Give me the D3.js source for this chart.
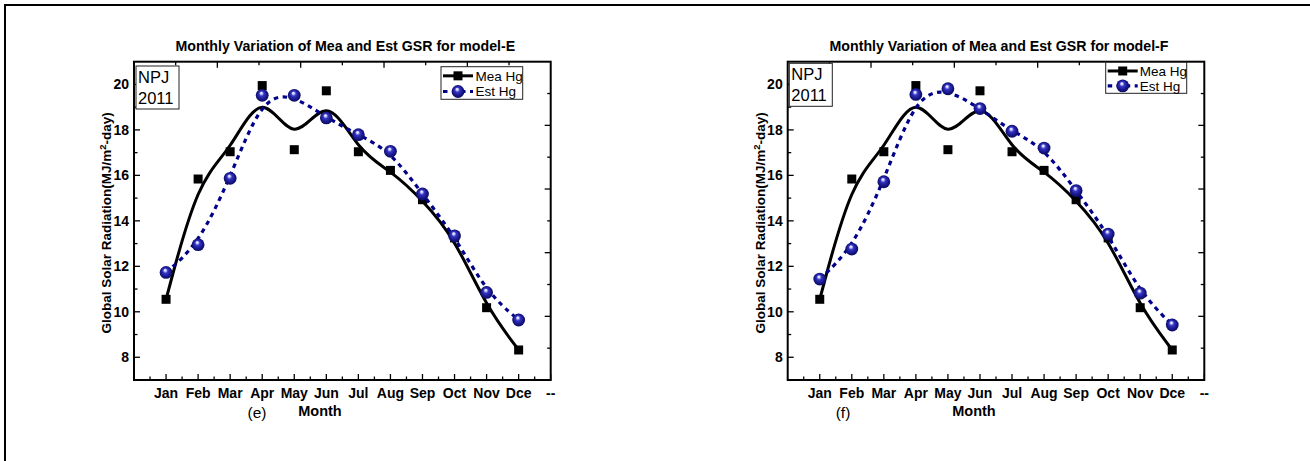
<!DOCTYPE html>
<html>
<head>
<meta charset="utf-8">
<script src="https://cdnjs.cloudflare.com/ajax/libs/d3/7.8.5/d3.min.js"></script>
<style>
html,body{margin:0;padding:0;background:#fff;}
svg{display:block;}
text{font-family:"Liberation Sans", Arial, sans-serif;}
</style>
</head>
<body>
<svg id="chart" width="1310" height="461"></svg>
<script>
// ---- data ----
const months = ["Jan","Feb","Mar","Apr","May","Jun","Jul","Aug","Sep","Oct","Nov","Dce"];
const xTickLabels = ["Jan","Feb","Mar","Apr","May","Jun","Jul","Aug","Sep","Oct","Nov","Dce","--"];
const yTickValues = [8,10,12,14,16,18,20];
const meaE = [10.55,15.84,17.04,19.95,17.13,19.72,17.04,16.22,14.93,13.25,10.18,8.32];
const estE = [11.73,12.95,15.87,19.52,19.52,18.53,17.79,17.06,15.18,13.34,10.85,9.64];
const meaF = [10.55,15.84,17.04,19.95,17.13,19.72,17.04,16.22,14.93,13.25,10.18,8.32];
const estF = [11.44,12.76,15.72,19.56,19.81,18.94,17.94,17.20,15.33,13.42,10.82,9.42];
const titles = ["Monthly Variation of Mea and Est GSR for model-E","Monthly Variation of Mea and Est GSR for model-F"];
const panelTags = ["(e)","(f)"];
const legendNames = ["Mea Hg","Est Hg"];

const svg = d3.select("#chart");

// sphere gradient
const defs = svg.append("defs");
const grad = defs.append("radialGradient").attr("id","sphere")
  .attr("cx","50%").attr("cy","50%").attr("r","55%").attr("fx","42%").attr("fy","30%");
[["0%","#ffffff"],["14%","#d0d0ff"],["35%","#3535c4"],["70%","#16168a"],["100%","#0a0a50"]]
  .forEach(s=>grad.append("stop").attr("offset",s[0]).attr("stop-color",s[1]));

// outer frame (top and left)
svg.append("line").attr("x1",4).attr("x2",1310).attr("y1",5).attr("y2",5).attr("stroke","#000").attr("stroke-width",2);
svg.append("line").attr("x1",5).attr("x2",5).attr("y1",4).attr("y2",461).attr("stroke","#000").attr("stroke-width",2);

function panel(cfg){
  const {left,right,top,bottom,mea,est,title,tag,tagX,monthX,legend,npj} = cfg;
  const g = svg.append("g");
  const x = d3.scaleLinear().domain([0,13]).range([left,right]);
  const y = d3.scaleLinear().domain([7,21]).range([bottom,top]);
  const cx = (left+right)/2;

  // title
  g.append("text").attr("x",cx+3).attr("y",51).attr("text-anchor","middle")
    .attr("font-weight","bold").attr("font-size","14.2px").text(title);

  // axes frame
  g.append("rect").attr("x",left).attr("y",top).attr("width",right-left).attr("height",bottom-top)
    .attr("fill","none").attr("stroke","#000").attr("stroke-width",2);

  // bottom axis ticks (inward)
  const xMaj = d3.range(1,14), xMin = d3.range(0.5,13,1);
  g.selectAll(".xmaj").data(xMaj).join("line").attr("x1",d=>x(d)).attr("x2",d=>x(d))
    .attr("y1",bottom).attr("y2",bottom-6).attr("stroke","#000").attr("stroke-width",1.3);
  g.selectAll(".xmin").data(xMin).join("line").attr("x1",d=>x(d)).attr("x2",d=>x(d))
    .attr("y1",bottom).attr("y2",bottom-3.5).attr("stroke","#000").attr("stroke-width",1.3);
  g.selectAll(".xlab").data(xTickLabels).join("text").attr("x",(d,i)=>x(i+1)).attr("y",bottom+18)
    .attr("text-anchor","middle").attr("font-weight","bold").attr("font-size","14px").text(d=>d);

  // left axis ticks
  const yMin = [9,11,13,15,17,19];
  g.selectAll(".ymaj").data(yTickValues).join("line").attr("x1",left).attr("x2",left+6)
    .attr("y1",d=>y(d)).attr("y2",d=>y(d)).attr("stroke","#000").attr("stroke-width",1.3);
  g.selectAll(".ymin").data(yMin).join("line").attr("x1",left).attr("x2",left+3.5)
    .attr("y1",d=>y(d)).attr("y2",d=>y(d)).attr("stroke","#000").attr("stroke-width",1.3);
  g.selectAll(".ylab").data(yTickValues).join("text").attr("x",left-5).attr("y",d=>y(d)).attr("dy","0.36em")
    .attr("text-anchor","end").attr("font-weight","bold").attr("font-size","14px").text(d=>d);

  // top & right axes (secondary ticks)
  const sec = d3.scaleLinear().domain([0,10]);
  const sx = sec.copy().range([left,right]), sy = sec.copy().range([top,bottom]);
  const k = d3.range(1,10);
  g.selectAll(".tt").data(k).join("line").attr("x1",d=>sx(d)).attr("x2",d=>sx(d))
    .attr("y1",top).attr("y2",d=>top+(d%2?3.5:6)).attr("stroke","#000").attr("stroke-width",1.3);
  g.selectAll(".rt").data(k).join("line").attr("y1",d=>sy(d)).attr("y2",d=>sy(d))
    .attr("x1",right).attr("x2",d=>right-(d%2?3.5:6)).attr("stroke","#000").attr("stroke-width",1.3);

  // axis titles
  g.append("text").attr("x",monthX).attr("y",416).attr("text-anchor","middle")
    .attr("font-weight","bold").attr("font-size","14.5px").text("Month");
  g.append("text").attr("x",tagX).attr("y",418).attr("text-anchor","middle")
    .attr("font-size","15.5px").text(tag);
  const yl = g.append("text").attr("transform",`translate(${left-23},${(top+bottom)/2+2}) rotate(-90)`)
    .attr("text-anchor","middle").attr("font-weight","bold").attr("font-size","13.5px");
  yl.append("tspan").text("Global Solar Radiation(MJ/m");
  yl.append("tspan").attr("dy",-5).attr("font-size","9.5px").text("2");
  yl.append("tspan").attr("dy",5).text("-day)");

  // curves
  const line = d3.line().x((d,i)=>x(i+1)).y(d=>y(d)).curve(d3.curveBasis);
  g.append("path").datum(mea).attr("d",line).attr("fill","none").attr("stroke","#000").attr("stroke-width",3);
  g.selectAll(".sq").data(mea).join("rect").attr("x",(d,i)=>x(i+1)-4.5).attr("y",d=>y(d)-4.5)
    .attr("width",9).attr("height",9).attr("fill","#000");
  g.append("path").datum(est).attr("d",line).attr("fill","none").attr("stroke","#00008b")
    .attr("stroke-width",3.2).attr("stroke-dasharray","4.5,4.5");
  g.selectAll(".ci").data(est).join("circle").attr("cx",(d,i)=>x(i+1)).attr("cy",d=>y(d))
    .attr("r",6.4).attr("fill","url(#sphere)");

  // NPJ box
  g.append("rect").attr("x",npj.x).attr("y",npj.y).attr("width",43).attr("height",43)
    .attr("fill","#fff").attr("stroke","#222").attr("stroke-width",1);
  g.append("text").attr("x",npj.x+2).attr("y",npj.y+17).attr("font-size","16.5px").text("NPJ");
  g.append("text").attr("x",npj.x+2).attr("y",npj.y+38).attr("font-size","16.5px").text("2011");

  // legend
  const L = legend;
  g.append("rect").attr("x",L.x).attr("y",L.y).attr("width",L.w).attr("height",L.h)
    .attr("fill","#fff").attr("stroke","#222").attr("stroke-width",1);
  const r1 = L.y+L.h*0.28, r2 = L.y+L.h*0.76;
  g.append("line").attr("x1",L.x+2).attr("x2",L.x+32).attr("y1",r1).attr("y2",r1).attr("stroke","#000").attr("stroke-width",3);
  g.append("rect").attr("x",L.x+12.5).attr("y",r1-4.5).attr("width",9).attr("height",9).attr("fill","#000");
  g.append("line").attr("x1",L.x+2).attr("x2",L.x+32).attr("y1",r2).attr("y2",r2).attr("stroke","#00008b")
    .attr("stroke-width",3.2).attr("stroke-dasharray","4.5,4.5");
  g.append("circle").attr("cx",L.x+17).attr("cy",r2).attr("r",6.4).attr("fill","url(#sphere)");
  g.append("text").attr("x",L.x+L.tx).attr("y",r1).attr("dy","0.36em").attr("font-size","13.5px").text(legendNames[0]);
  g.append("text").attr("x",L.x+L.tx).attr("y",r2).attr("dy","0.36em").attr("font-size","13.5px").text(legendNames[1]);
}

panel({left:134,right:550.7,top:61.7,bottom:380,mea:meaE,est:estE,title:titles[0],tag:panelTags[0],
  tagX:257,monthX:320,legend:{x:441,y:66.7,w:81.7,h:32.6,tx:34.5},npj:{x:136,y:66}});
panel({left:787.7,right:1204.3,top:61.7,bottom:380,mea:meaF,est:estF,title:titles[1],tag:panelTags[1],
  tagX:843,monthX:974,legend:{x:1105.7,y:62.3,w:81,h:31,tx:34},npj:{x:789.3,y:63.3}});
</script>
</body>
</html>
